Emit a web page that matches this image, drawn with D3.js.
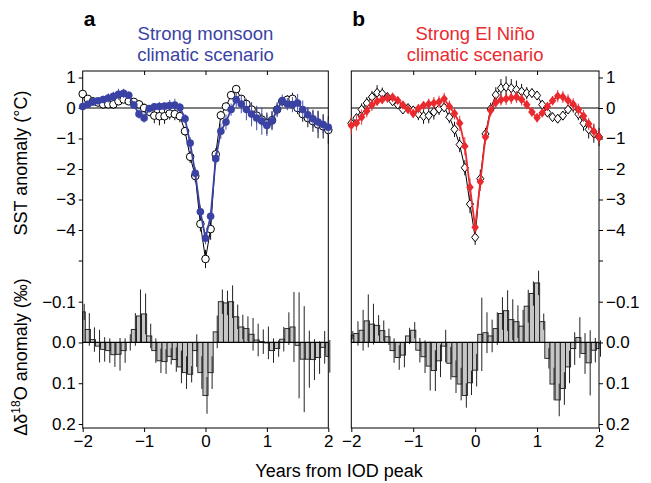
<!DOCTYPE html>
<html lang="en">
<head>
<meta charset="UTF-8">
<title>SST and d18O anomalies around IOD peak</title>
<script src="https://d3js.org/d3.v7.min.js"></script>
<style>
  body { margin: 0; background: white; }
  svg text { font-family: "Liberation Sans", Arial, Helvetica, sans-serif; fill: black; }
  .tick line { stroke: black; }
</style>
</head>
<body>
<script>
// months from IOD peak (-24 .. 24), plotted in years
const monthOffsets = d3.range(-24, 25);
const yearTicks = [-2, -1, 0, 1, 2];
const sstTicks = [1, 0, -1, -2, -3, -4, -5];
const d18oTicks = [-0.1, 0, 0.1, 0.2];

// panel a: strong monsoon scenario (blue) vs all IOD events (open circles)
const sstMonsoon = [0.05, 0.12, 0.2, 0.24, 0.28, 0.33, 0.38, 0.45, 0.48, 0.42,
  0.1, -0.2, -0.33, -0.02, 0.04, 0.05, 0.06, 0.08, 0.1, 0.02,
  -0.35, -1.15, -2.14, -3.4, -4.27, -3.55, -1.66, -0.76, -0.46, -0.05,
  0.27, 0.13, -0.05, -0.2, -0.33, -0.43, -0.57, -0.43, -0.05, 0.24,
  0.13, 0.11, 0.16, -0.05, -0.22, -0.35, -0.46, -0.54, -0.63];
const sstMonsoonErr = [0.1, 0.12, 0.1, 0.12, 0.12, 0.15, 0.15, 0.18, 0.15, 0.12,
  0.12, 0.15, 0.15, 0.12, 0.12, 0.15, 0.12, 0.18, 0.2, 0.15,
  0.15, 0.2, 0.2, 0.2, 0.2, 0.2, 0.2, 0.25, 0.25, 0.2,
  0.25, 0.3, 0.35, 0.4, 0.4, 0.45, 0.35, 0.3, 0.25, 0.2,
  0.2, 0.25, 0.3, 0.3, 0.25, 0.3, 0.35, 0.3, 0.25];
const sstAllA = [0.46, 0.3, 0.22, 0.18, 0.12, 0.12, 0.12, 0.22, 0.28, 0.22,
  0.2, 0.12, 0.0, -0.12, -0.25, -0.27, -0.27, -0.18, -0.2, -0.27,
  -0.76, -1.6, -2.23, -3.8, -4.95, -3.97, -1.52, -0.24, 0.05, 0.42,
  0.62, 0.3, 0.13, -0.05, -0.25, -0.38, -0.5, -0.4, -0.05, 0.22,
  0.27, 0.3, 0.0, -0.2, -0.33, -0.43, -0.54, -0.6, -0.72];
const sstAllAErr = [0.12, 0.1, 0.1, 0.12, 0.15, 0.12, 0.15, 0.12, 0.1, 0.1,
  0.12, 0.12, 0.15, 0.15, 0.25, 0.3, 0.25, 0.2, 0.2, 0.2,
  0.15, 0.2, 0.2, 0.25, 0.3, 0.35, 0.2, 0.15, 0.12, 0.12,
  0.12, 0.12, 0.15, 0.2, 0.25, 0.2, 0.35, 0.3, 0.2, 0.15,
  0.15, 0.2, 0.2, 0.25, 0.3, 0.35, 0.45, 0.4, 0.45];
const d18oMonsoon = [-0.075, -0.032, -0.007, 0.009, 0.017, 0.02, 0.03, 0.029, 0.02, 0.0,
  -0.032, -0.065, -0.07, -0.016, 0.02, 0.045, 0.047, 0.034, 0.042, 0.06,
  0.074, 0.078, 0.02, 0.074, 0.13, 0.074, -0.026, -0.1, -0.097, -0.1,
  -0.063, -0.038, -0.034, -0.02, -0.006, -0.002, 0.001, 0.02, 0.015, -0.008,
  -0.034, -0.038, 0.007, 0.041, 0.041, 0.042, 0.037, 0.012, 0.034];
const d18oMonsoonErr = [0.02, 0.04, 0.03, 0.04, 0.03, 0.03, 0.03, 0.04, 0.03, 0.02,
  0.04, 0.065, 0.05, 0.03, 0.03, 0.03, 0.03, 0.02, 0.03, 0.04,
  0.04, 0.02, 0.04, 0.04, 0.045, 0.04, 0.04, 0.03, 0.03, 0.04,
  0.03, 0.03, 0.03, 0.04, 0.04, 0.03, 0.04, 0.03, 0.02, 0.03,
  0.04, 0.086, 0.13, 0.13, 0.07, 0.05, 0.04, 0.04, 0.04];

// panel b: strong El Nino scenario (red) vs all IOD events (open diamonds)
const sstNino = [-0.57, -0.49, -0.3, -0.1, 0.1, 0.22, 0.28, 0.33, 0.35, 0.25,
  0.1, -0.05, -0.18, -0.02, 0.08, 0.13, 0.16, 0.2, 0.3, 0.05,
  -0.18, -0.5, -1.25, -2.6, -3.91, -2.42, -0.95, -0.08, 0.18, 0.27,
  0.3, 0.33, 0.36, 0.28, 0.11, -0.13, -0.32, -0.16, 0.05, 0.24,
  0.39, 0.36, 0.25, 0.12, -0.05, -0.26, -0.52, -0.76, -0.95];
const sstNinoErr = [0.3, 0.25, 0.25, 0.2, 0.2, 0.15, 0.15, 0.15, 0.15, 0.12,
  0.12, 0.12, 0.15, 0.15, 0.15, 0.18, 0.2, 0.2, 0.2, 0.2,
  0.2, 0.25, 0.3, 0.3, 0.25, 0.3, 0.25, 0.2, 0.2, 0.2,
  0.2, 0.2, 0.2, 0.2, 0.15, 0.15, 0.15, 0.15, 0.15, 0.15,
  0.2, 0.2, 0.2, 0.2, 0.2, 0.2, 0.2, 0.25, 0.25];
const sstAllB = [-0.5, -0.33, -0.05, 0.16, 0.36, 0.5, 0.47, 0.36, 0.22, 0.11,
  -0.05, 0.0, -0.08, -0.2, -0.27, -0.25, -0.13, -0.03, 0.02, -0.3,
  -0.7, -1.2, -1.96, -3.15, -4.24, -2.32, -0.85, -0.03, 0.43, 0.65,
  0.69, 0.65, 0.6, 0.54, 0.49, 0.49, 0.41, 0.11, -0.15, -0.3,
  -0.35, -0.25, -0.05, 0.05, -0.2, -0.5, -0.7, -0.84, -0.95];
const sstAllBErr = [0.15, 0.15, 0.2, 0.2, 0.2, 0.25, 0.2, 0.15, 0.12, 0.12,
  0.12, 0.12, 0.15, 0.2, 0.25, 0.25, 0.25, 0.2, 0.15, 0.2,
  0.25, 0.25, 0.25, 0.3, 0.25, 0.3, 0.2, 0.2, 0.25, 0.3,
  0.35, 0.3, 0.3, 0.25, 0.2, 0.15, 0.15, 0.15, 0.15, 0.15,
  0.15, 0.15, 0.15, 0.2, 0.2, 0.25, 0.3, 0.3, 0.3];
const d18oNino = [-0.018, -0.022, -0.03, -0.053, -0.045, -0.042, -0.029, -0.014, 0.02, 0.037,
  0.031, -0.016, -0.03, 0.019, 0.035, 0.058, 0.069, 0.045, 0.009, 0.051,
  0.084, 0.102, 0.13, 0.099, 0.068, -0.02, -0.024, -0.016, -0.034, -0.071,
  -0.078, -0.056, -0.051, -0.04, -0.089, -0.12, -0.146, -0.051, 0.039, 0.102,
  0.141, 0.113, 0.06, 0.015, -0.012, 0.027, 0.05, 0.019, 0.015];
const d18oNinoErr = [0.01, 0.03, 0.05, 0.065, 0.05, 0.025, 0.025, 0.02, 0.03, 0.03,
  0.03, 0.02, 0.02, 0.03, 0.04, 0.06, 0.05, 0.04, 0.04, 0.04,
  0.04, 0.04, 0.03, 0.03, 0.04, 0.09, 0.05, 0.04, 0.04, 0.04,
  0.05, 0.05, 0.04, 0.04, 0.04, 0.03, 0.03, 0.02, 0.025, 0.04,
  0.04, 0.04, 0.04, 0.04, 0.05, 0.05, 0.08, 0.03, 0.02];

const width = 651, height = 483;
const blue = "#3a43a4", red = "#ea2a2f";
const frameTop = 71, frameBottom = 428;

const svg = d3.select("body").append("svg")
    .attr("width", width)
    .attr("height", height);

const ySst = d3.scaleLinear().domain([1, -5]).range([77.5, 260.5]);
const yD18o = d3.scaleLinear().domain([-0.1, 0.2]).range([301.7, 424]);

// diamond marker, a bit taller than wide
const diamond = {
    draw(ctx, size) {
        const h = Math.sqrt(size) * 0.62, w = h * 0.8;
        ctx.moveTo(0, -h); ctx.lineTo(w, 0); ctx.lineTo(0, h); ctx.lineTo(-w, 0); ctx.closePath();
    }
};

function drawPanel(p) {
    const x = d3.scaleLinear().domain([-2, 2]).range([p.left, p.right]);
    const g = svg.append("g");
    const yr = m => m / 12;

    // isotope bars
    const halfStep = 0.5 / 12;
    const barL = i => x(Math.max(-2, yr(monthOffsets[i]) - halfStep));
    const barR = i => x(Math.min(2, yr(monthOffsets[i]) + halfStep));
    g.selectAll(".bar").data(p.d18o).enter().append("rect")
        .attr("x", (d, i) => barL(i))
        .attr("width", (d, i) => barR(i) - barL(i))
        .attr("y", d => Math.min(yD18o(0), yD18o(d)))
        .attr("height", d => Math.abs(yD18o(d) - yD18o(0)))
        .attr("fill", "#c6c6c6")
        .attr("stroke", "#1a1a1a")
        .attr("stroke-width", 0.9);
    g.selectAll(".barerr").data(p.d18o).enter().append("line")
        .attr("x1", (d, i) => x(yr(monthOffsets[i])) + 1.5)
        .attr("x2", (d, i) => x(yr(monthOffsets[i])) + 1.5)
        .attr("y1", (d, i) => yD18o(d - p.d18oErr[i]))
        .attr("y2", (d, i) => yD18o(d + p.d18oErr[i]))
        .attr("stroke", "#222")
        .attr("stroke-width", 1);

    // zero lines
    g.append("line").attr("x1", p.left).attr("x2", p.right)
        .attr("y1", ySst(0)).attr("y2", ySst(0)).attr("stroke", "black");
    g.append("line").attr("x1", p.left).attr("x2", p.right)
        .attr("y1", yD18o(0)).attr("y2", yD18o(0)).attr("stroke", "black").attr("stroke-width", 1.2);

    // frame
    g.append("rect").attr("x", p.left).attr("y", frameTop)
        .attr("width", p.right - p.left).attr("height", frameBottom - frameTop)
        .attr("fill", "none").attr("stroke", "black");

    // axes
    const axTop = g.append("g").attr("transform", `translate(0,${frameTop})`)
        .call(d3.axisTop(x).tickValues([-1, 0, 1]).tickSize(-4).tickFormat(""));
    const axBottom = g.append("g").attr("transform", `translate(0,${frameBottom})`)
        .call(d3.axisBottom(x).tickValues(yearTicks).tickSize(4).tickPadding(3)
            .tickFormat(d3.format("d")));
    const side = p.axisSide === "left" ? d3.axisLeft : d3.axisRight;
    const sideX = p.axisSide === "left" ? p.left : p.right;
    const axSst = g.append("g").attr("transform", `translate(${sideX},0)`)
        .call(side(ySst).tickValues(sstTicks).tickSize(4).tickPadding(3)
            .tickFormat(d => d === -5 ? "" : d3.format("d")(d)));
    const axD = g.append("g").attr("transform", `translate(${sideX},0)`)
        .call(side(yD18o).tickValues(d18oTicks).tickSize(4).tickPadding(3)
            .tickFormat(d3.format(".1f")));
    [axTop, axBottom, axSst, axD].forEach(a => {
        a.select(".domain").remove();
        a.selectAll("text").style("font-size", "17px").attr("fill", "black");
    });

    const line = d3.line().x((d, i) => x(yr(monthOffsets[i]))).y(d => ySst(d));

    // all-event composite (black, open markers)
    g.selectAll(".errK").data(p.sstAll).enter().append("line")
        .attr("x1", (d, i) => x(yr(monthOffsets[i])))
        .attr("x2", (d, i) => x(yr(monthOffsets[i])))
        .attr("y1", (d, i) => ySst(d - p.sstAllErr[i]))
        .attr("y2", (d, i) => ySst(d + p.sstAllErr[i]))
        .attr("stroke", "#111").attr("stroke-width", 1);
    g.append("path").datum(p.sstAll).attr("d", line)
        .attr("fill", "none").attr("stroke", "black").attr("stroke-width", 1);
    if (p.marker === "circle") {
        g.selectAll(".mk").data(p.sstAll).enter().append("circle")
            .attr("cx", (d, i) => x(yr(monthOffsets[i])))
            .attr("cy", d => ySst(d))
            .attr("r", 3.8)
            .attr("fill", "white").attr("stroke", "black").attr("stroke-width", 1);
    } else {
        g.selectAll(".mk").data(p.sstAll).enter().append("path")
            .attr("transform", (d, i) => `translate(${x(yr(monthOffsets[i]))},${ySst(d)})`)
            .attr("d", d3.symbol().type(diamond).size(52))
            .attr("fill", "white").attr("stroke", "black").attr("stroke-width", 1);
    }

    // scenario composite (coloured, filled markers)
    g.selectAll(".errC").data(p.sst).enter().append("line")
        .attr("x1", (d, i) => x(yr(monthOffsets[i])))
        .attr("x2", (d, i) => x(yr(monthOffsets[i])))
        .attr("y1", (d, i) => ySst(d - p.sstErr[i]))
        .attr("y2", (d, i) => ySst(d + p.sstErr[i]))
        .attr("stroke", p.color).attr("stroke-width", 1.1).attr("opacity", 0.85);
    g.append("path").datum(p.sst).attr("d", line)
        .attr("fill", "none").attr("stroke", p.color).attr("stroke-width", 1.8);
    if (p.marker === "circle") {
        g.selectAll(".mkc").data(p.sst).enter().append("circle")
            .attr("cx", (d, i) => x(yr(monthOffsets[i])))
            .attr("cy", d => ySst(d))
            .attr("r", 3.8)
            .attr("fill", p.color);
    } else {
        g.selectAll(".mkc").data(p.sst).enter().append("path")
            .attr("transform", (d, i) => `translate(${x(yr(monthOffsets[i]))},${ySst(d)})`)
            .attr("d", d3.symbol().type(diamond).size(58))
            .attr("fill", p.color);
    }

    // panel letter and title
    svg.append("text").attr("x", p.left + 1).attr("y", 26)
        .style("font-size", "21px").style("font-weight", "bold").text(p.letter);
    const center = (p.left + p.right) / 2;
    p.title.forEach((t, k) => {
        svg.append("text").attr("x", center).attr("y", 39.5 + k * 21)
            .attr("text-anchor", "middle").style("font-size", "18.5px")
            .style("fill", p.color).text(t);
    });
}

drawPanel({
    left: 82.7, right: 328.3, axisSide: "left", marker: "circle", color: blue,
    letter: "a", title: ["Strong monsoon", "climatic scenario"],
    sst: sstMonsoon, sstErr: sstMonsoonErr, sstAll: sstAllA, sstAllErr: sstAllAErr,
    d18o: d18oMonsoon, d18oErr: d18oMonsoonErr
});
drawPanel({
    left: 351.3, right: 599, axisSide: "right", marker: "diamond", color: red,
    letter: "b", title: ["Strong El Niño", "climatic scenario"],
    sst: sstNino, sstErr: sstNinoErr, sstAll: sstAllB, sstAllErr: sstAllBErr,
    d18o: d18oNino, d18oErr: d18oNinoErr
});

// axis titles
svg.append("text")
    .attr("transform", "translate(27,163) rotate(-90)")
    .attr("text-anchor", "middle").style("font-size", "18px")
    .text("SST anomaly (°C)");
const dLabel = svg.append("text")
    .attr("transform", "translate(27,357) rotate(-90)")
    .attr("text-anchor", "middle").style("font-size", "18px");
dLabel.append("tspan").text("Δδ");
dLabel.append("tspan").attr("dy", -7).style("font-size", "12px").text("18");
dLabel.append("tspan").attr("dy", 7).text("O anomaly (‰)");

svg.append("text").attr("x", 339).attr("y", 477)
    .attr("text-anchor", "middle").style("font-size", "18px")
    .text("Years from IOD peak");
</script>
</body>
</html>
